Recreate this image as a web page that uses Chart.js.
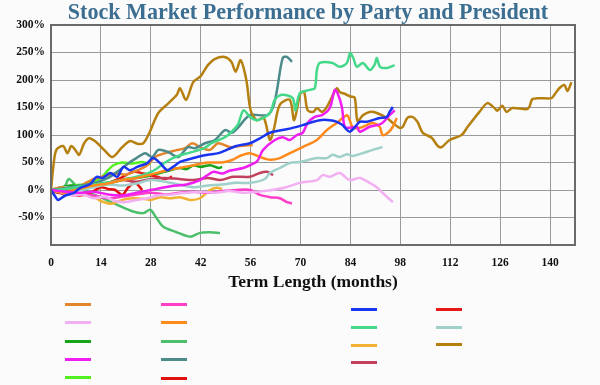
<!DOCTYPE html>
<html>
<head>
<meta charset="utf-8">
<script src="https://cdn.jsdelivr.net/npm/chart.js@4.4.1/dist/chart.umd.min.js"></script>
<style>
  html, body { margin: 0; padding: 0; background: #fbfbfb; }
  #wrap { position: relative; width: 600px; height: 385px; overflow: hidden; }
  #c { position: absolute; left: 0; top: 0; }
  #title { position: absolute; left: 0; top: -1px; width: 616px; text-align: center;
    font: bold 24px "Liberation Serif", serif; line-height: 24px; color: #3b6e91;
    transform: scaleX(0.92); transform-origin: 308px 0; white-space: nowrap; }
  .lg { position: absolute; height: 3px; width: 26px; }
</style>
</head>
<body>
<div id="wrap">
  <canvas id="c" width="600" height="300"></canvas>
  <div id="title">Stock Market Performance by Party and President</div>
  <div id="legend"></div>
</div>
<script>
// ---- data (months, % change) ----
const xTicksStep = 14;
const yTickLabels = ['-50%', '0%', '50%', '100%', '150%', '200%', '250%', '300%'];

const brownM = [0,0.7,1.5,3.4,4.6,5.7,6.8,7.9,9.3,10.7,12.7,14.9,17.2,20,22.2,24.2,25.9,27.6,30.1,33,35.3,36.2,37.9,39.9,42,44,45.9,48.7,50.6,51.8,53.2,54.8,56,57.7,59.7,61.4,62.5,64.2,67,68.2,70,71,72,73.6,74.6,76,77.4,78.8,80.2,81,82.4,84,85.2,86,87.5,89.4,91.4,94.2,95.9,97.8,98.7,100,101.4,102.8,104.3,106.8,108.5,109.6,111.8,115.2,116.9,120.2,122.4,124.4,125.2,126.6,127.8,129.4,133.4,134.2,135,137,140.4,141.2,142.6,144,144.9,146];
const brownV = [0,45,73,80,67,80,73,64,85,94,87,73,60,78,89,84,85,104,140,158,173,185,164,196,207,227,238,242,233,215,236,200,145,127,131,91,110,155,164,127,176,178,145,142,149,142,151,169,185,178,175,170,168,125,136,142,140,131,122,113,115,131,133,124,104,95,80,78,91,100,115,142,158,149,144,153,142,149,147,151,165,167,167,173,185,191,180,196];

const mintM = [0,4,8,12,16,20,24,27,29,32,35.6,39,43,45,48.8,51,52.5,54,55.8,58,61.4,62.8,64.8,67.8,68.6,69.8,72.6,74,74.6,75.4,79,81,83,83.9,84.8,85.8,87.5,89.5,90.8,91.4,92.3,94.3,96.4];
const mintV = [0,2,6,10,14,18,24,30,36,50,62,68,76,85,96,108,120,145,133,127,140,164,173,167,145,176,182,185,218,231,231,224,231,249,240,224,231,218,228,240,224,222,227];

const tealM = [0,4,8,12,16,19,22,24,26.4,28.4,30.1,32.9,35.7,38.4,40.4,43.2,46,48.8,50.8,52.4,55.8,60.6,62.3,63.4,65,66.2,67.6];
const tealV = [0,3,8,12,22,35,50,58,67,60,73,69,60,78,76,85,91,109,104,113,136,136,151,182,240,242,233];

const blueM = [0,1,2,4,6.5,8,11,12.8,14.5,16.6,18.6,20.3,22.2,24.2,27,28.6,30.6,32.6,34.2,36.2,38.2,41,44,47,50,52,55.8,58.6,61.4,65,67.8,70.6,72.6,75.4,78.2,80.2,81.8,82.5,83.8,85.2,86.6,88.6,90.2,92.2,94.2,95,95.9];
const blueV = [0,-10,-18,-10,-5,3,11,24,22,31,24,42,36,42,49,58,49,36,42,51,55,60,64,67,75,80,85,94,104,109,113,118,122,127,127,124,118,113,106,114,124,124,127,131,133,142,151];

const magentaM = [0,4,8,12,16,20,24,28,32,35,38,41.8,45.5,48,50,53.9,55.8,57.8,59.5,62.8,65,67,69,70.6,72,74,76,78.2,79.6,80.4,81.6,82.4,83.8,85.8,86.6,89.4,91.6,93,95,96.4];
const magentaV = [0,-3,-5,-3,-8,-10,-5,0,5,8,10,18,33,30,35,40,45,52,73,91,96,91,100,104,122,133,136,149,182,176,151,115,113,115,106,115,118,122,136,145];

const orangeM = [0,4,8,12,16,20,24,28,32,36,40,44,48,51,53,55.8,58.6,61.4,64.2,67,70.6,74.6,77.4,80.2,83,83.8,84.7,86.6,88.6,90.2,92.2,93,94.5,95.9,97];
const orangeV = [0,-5,2,8,12,18,22,28,35,40,45,50,50,55,62,67,60,55,58,67,78,91,109,122,136,127,113,113,118,122,115,100,104,115,131];

const darkOrangeM = [0,3,6,9,12,15,18,21,24,27,29.2,32,35,37.6,39.6,42.4,44.6,46.9,50.2,53,56.6];
const darkOrangeV = [0,5,0,10,20,25,30,28,35,45,60,67,72,76,85,76,73,85,78,80,82];

const violetM = [0,3,6,9,12,15,18,21,24,27,30,34,38,42,46,50,54,58,62,66,69.8,74.6,76.2,78.2,81,83.8,86.6,89.4,91.4,93,94.5,95.9];
const violetV = [0,-5,-10,-8,-15,-12,-20,-22,-18,-15,-10,-8,-5,-3,-5,-2,-5,-3,0,5,13,18,27,24,31,18,22,13,5,-5,-14,-22];

const lightTealM = [0,4,8,12,16,20,24,28,32,36,40,44,48,52,56,60,61.4,64.2,67,69.8,74.6,77.4,79,81,83,84.7,87.5,90.2,93];
const lightTealV = [0,5,0,5,10,8,12,18,15,10,5,8,10,13,13,20,31,40,49,51,58,58,64,60,65,62,67,73,78];

const roseM = [0,4,8,12,16,20,24,28,32,36,40,44,47.5,51,55.8,58.6,60.6,62.3];
const roseV = [0,3,5,8,12,18,15,20,22,20,18,22,18,24,24,31,33,27];

const amberM = [0,4,8,12,14,17,20,23,26,28,30.6,33.4,36.2,39,41.8,44.6,46.6,48];
const amberV = [0,-5,-8,-12,-20,-25,-18,-15,-16,-18,-13,-15,-13,-18,-15,0,4,2];

const pinkM = [0,4,8,12,16,20,24,28,32,36,40,44,48,52,56,58.6,61.4,64.2,66.2,67.6];
const pinkV = [0,-5,-8,-10,-15,-12,-8,-5,-8,-5,-3,-5,-2,0,0,-9,-13,-15,-22,-24];

const redAM = [0,4,7,10,13,16,19,23,26,29.8,32,34];
const redAV = [0,2,0,5,10,13,20,33,30,24,20,24];

const redBM = [0,2,5,8,11,14,16,18,20,21.7,23.6,25.6];
const redBV = [0,-5,-8,-10,-5,5,2,0,-9,5,13,0];

const darkGreenM = [0,3,6,9,12,15,18,21,24,27,30,33,36,38,40,42,44.6,47,48];
const darkGreenV = [0,5,8,5,10,12,15,20,22,25,30,35,40,38,45,42,45,40,42];

const medGreenM = [0,2,4,5,7,9,13.8,18.6,23,26,27.8,29.5,31.5,35,39,41.8,44.6,47.4];
const medGreenV = [0,-5,8,20,8,0,-13,-27,-39,-42,-36,-50,-67,-76,-85,-78,-77,-78];

const limeM = [0,3,6,9,12,14,16,17.5,20,22.8,25.6,28];
const limeV = [0,3,8,10,15,22,36,45,50,48,51,47];

// ---- series definitions (drawing order: first on top) ----
const series = [
  { m: blueM, v: blueV, color: '#1a35f0' },
  { m: magentaM, v: magentaV, color: '#f01ef0' },
  { m: orangeM, v: orangeV, color: '#ff8a1c' },
  { m: mintM, v: mintV, color: '#44d98a' },
  { m: brownM, v: brownV, color: '#b5800f' },
  { m: tealM, v: tealV, color: '#4b8b8a' },
  { m: darkOrangeM, v: darkOrangeV, color: '#e3852c' },
  { m: lightTealM, v: lightTealV, color: '#9fd0ca' },
  { m: violetM, v: violetV, color: '#f2b0f2' },
  { m: roseM, v: roseV, color: '#c0405e' },
  { m: pinkM, v: pinkV, color: '#ff3fc8' },
  { m: redAM, v: redAV, color: '#e81818' },
  { m: redBM, v: redBV, color: '#e01010' },
  { m: darkGreenM, v: darkGreenV, color: '#18a418' },
  { m: limeM, v: limeV, color: '#52f020' },
  { m: amberM, v: amberV, color: '#f2b234' },
  { m: medGreenM, v: medGreenV, color: '#4cbf6c' }
];

const datasets = series.map(s => ({
  label: '',
  data: s.m.map((x, i) => ({ x: x, y: s.v[i] })),
  borderColor: s.color,
  backgroundColor: s.color,
  borderWidth: 2.5,
  pointRadius: 0,
  tension: 0.3,
  fill: false
}));

const frame = {
  id: 'frame',
  afterDraw(chart) {
    const a = chart.chartArea, ctx = chart.ctx;
    ctx.save();
    ctx.strokeStyle = '#6a6a6a';
    ctx.lineWidth = 2;
    ctx.strokeRect(a.left, a.top, a.right - a.left, a.bottom - a.top);
    ctx.restore();
  }
};

const tickFont = { family: '"Liberation Serif", serif', size: 11.5, weight: 'bold' };

new Chart(document.getElementById('c'), {
  type: 'line',
  data: { datasets },
  options: {
    responsive: false,
    animation: false,
    devicePixelRatio: 1,
    layout: { padding: { left: 0, right: 25, top: 25, bottom: 0 } },
    plugins: { legend: { display: false }, title: { display: false }, tooltip: { enabled: false } },
    scales: {
      x: {
        type: 'linear', min: 0, max: 147,
        ticks: { stepSize: xTicksStep, includeBounds: false, font: tickFont, color: '#111', padding: 11, maxRotation: 0 },
        grid: { color: '#9a9a9a', lineWidth: 1, drawTicks: false },
        border: { display: false },
        title: { display: true, text: 'Term Length (months)', color: '#111',
          font: { family: '"Liberation Serif", serif', size: 17.5, weight: 'bold' }, padding: { top: 0, bottom: 7 } },
        afterFit(scale) { scale.height = 55; }
      },
      y: {
        min: -100, max: 300,
        ticks: { stepSize: 50, font: tickFont, color: '#111', padding: 6,
          callback: (v) => { const s = v + '%'; return yTickLabels.includes(s) ? s : ''; } },
        grid: { color: '#9a9a9a', lineWidth: 1, drawTicks: false },
        border: { display: false },
        afterFit(scale) { scale.width = 51; }
      }
    }
  },
  plugins: [frame]
});

// ---- legend (swatches only, as in the reference) ----
const legendOrder = [
  // [seriesIndex, left, top]
  [6, 65, 303], [8, 65, 321], [13, 65, 340], [1, 65, 358], [14, 65, 376],
  [10, 161, 303], [2, 161, 321], [16, 161, 340], [5, 161, 358], [12, 161, 377],
  [0, 351, 308], [3, 351, 326], [15, 351, 344], [9, 351, 361],
  [11, 436, 308], [7, 436, 326], [4, 436, 343]
];
const lg = document.getElementById('legend');
legendOrder.forEach(([i, l, t]) => {
  const d = document.createElement('div');
  d.className = 'lg';
  d.style.left = l + 'px';
  d.style.top = t + 'px';
  d.style.background = series[i].color;
  lg.appendChild(d);
});
</script>
</body>
</html>
